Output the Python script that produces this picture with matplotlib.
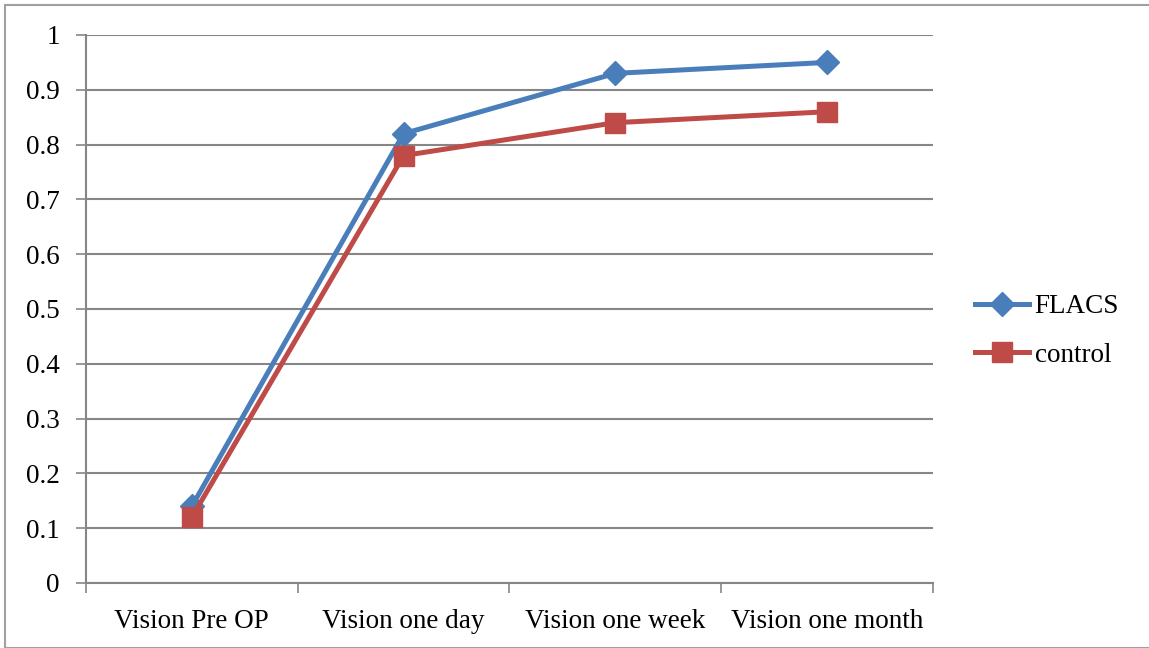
import matplotlib.pyplot as plt
from matplotlib.patches import Rectangle

categories = ["Vision Pre OP", "Vision one day", "Vision one week", "Vision one month"]
flacs = [0.14, 0.82, 0.93, 0.95]
control = [0.12, 0.78, 0.84, 0.86]
yticks = [0, 0.1, 0.2, 0.3, 0.4, 0.5, 0.6, 0.7, 0.8, 0.9, 1]

W, H = 1149, 648
plt.rcParams['font.family'] = ['Liberation Serif', 'DejaVu Serif']
grey = "#868686"
blue = "#4A7EBB"
red = "#BE4B48"
fs = 19.5

fig = plt.figure(figsize=(W / 100, H / 100), dpi=100)
ax = fig.add_axes([86 / W, 1 - 583 / H, (933 - 86) / W, (583 - 35) / H])

x = list(range(len(categories)))
ax.plot(x, flacs, color=blue, lw=3.6, marker="D", ms=12, mec=blue, label="FLACS", zorder=3)
ax.plot(x, control, color=red, lw=3.6, marker="s", ms=14, mec=red, label="control", zorder=4)

ax.set_xlim(-0.5, len(categories) - 0.5)
ax.set_ylim(0, 1)
ax.set_yticks(yticks)
ax.set_yticklabels([f"{v:g}" for v in yticks])
ax.set_xticks(x)
ax.set_xticklabels(categories)
ax.set_xticks([i - 0.5 for i in range(len(categories) + 1)], minor=True)
ax.tick_params(axis="x", which="major", length=0, pad=19, labelsize=fs)
ax.tick_params(axis="x", which="minor", length=7, width=1.2, color=grey)
ax.tick_params(axis="y", length=7, width=1.2, color=grey, pad=12, labelsize=fs)
ax.grid(axis="y", color=grey, lw=1.5)
ax.set_axisbelow(True)
for side in ("top", "right"):
    ax.spines[side].set_visible(False)
for side in ("left", "bottom"):
    ax.spines[side].set_color(grey)
    ax.spines[side].set_linewidth(1.5)

ax.legend(loc="center left", bbox_to_anchor=(975 / W, 1 - 331 / H), bbox_transform=fig.transFigure,
          frameon=False, fontsize=fs, handlelength=2.0, labelspacing=0.85, handletextpad=0.2,
          borderpad=0, borderaxespad=0)

fig.patches.append(Rectangle((5 / W, 0), 1, 1 - 5 / H, transform=fig.transFigure,
                             fill=False, ec="#A0A0A0", lw=1.5))

fig.savefig("out.png", dpi=100)
